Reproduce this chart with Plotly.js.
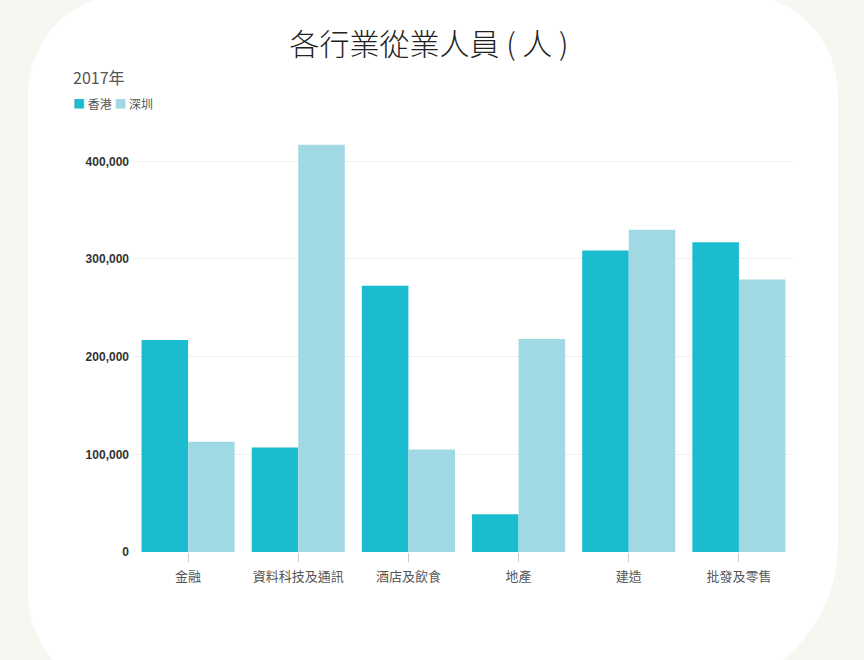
<!DOCTYPE html>
<html>
<head>
<meta charset="utf-8">
<script src="https://cdn.plot.ly/plotly-3.0.1.min.js"></script>
<style>
  html, body { margin: 0; padding: 0; background: #f8f6f1; width: 864px; height: 660px; overflow: hidden; }
  #card { position: absolute; left: 28px; top: -6px; width: 810px; height: 700px; background: #ffffff;
          border-radius: 100px 100px 150px 100px; }
  #chart { position: absolute; left: 0; top: 0; width: 864px; height: 660px; }
</style>
</head>
<body>
<div id="card"></div>
<div id="chart"></div>
<script>
const categories = ["金融", "資料科技及通訊", "酒店及飲食", "地產", "建造", "批發及零售"];
const hongKong = [217000, 107000, 272500, 38600, 308700, 317000];
const shenzhen = [113000, 417000, 105000, 218000, 330000, 279000];
const seriesNames = ["香港", "深圳"];
const yTicks = [0, 100000, 200000, 300000, 400000];

const cHK = "#1bbccf";
const cSZ = "#a0d9e4";
const cjk = "'Noto Sans CJK TC', 'Noto Sans CJK SC', 'Liberation Sans', sans-serif";

const data = [
  { type: "bar", name: seriesNames[0], x: categories, y: hongKong, marker: { color: cHK }, showlegend: false },
  { type: "bar", name: seriesNames[1], x: categories, y: shenzhen, marker: { color: cSZ }, showlegend: false }
];

const layout = {
  width: 864, height: 660,
  paper_bgcolor: "rgba(0,0,0,0)",
  plot_bgcolor: "rgba(0,0,0,0)",
  margin: { l: 133, r: 70, t: 132, b: 108 },
  barmode: "group",
  bargap: 0.155,
  bargroupgap: 0,
  title: {
    text: "各行業從業人員 ( 人 )",
    font: { family: cjk, size: 30, color: "#222222", weight: 300 },
    x: 429 / 864, xanchor: "center", xref: "container",
    y: 1 - 44 / 660, yanchor: "middle", yref: "container"
  },
  xaxis: {
    type: "category",
    ticks: "outside", ticklen: 9, tickcolor: "#cccccc", tickwidth: 1,
    tickfont: { family: cjk, size: 13, color: "#555555" },
    ticklabelstandoff: 3,
    showgrid: false, zeroline: false, showline: false
  },
  yaxis: {
    range: [0, 430000],
    tickvals: yTicks,
    tickformat: ",d",
    tickfont: { family: "'Liberation Sans', Arial, sans-serif", size: 12, color: "#333333", weight: "bold" },
    showgrid: true, gridcolor: "#f0f0f0", gridwidth: 1,
    zeroline: false, showline: false, ticks: "",
    ticklabelstandoff: 3
  },
  annotations: [
    {
      xref: "paper", yref: "paper", x: (71 - 133) / 661, y: (552 - 77) / 420,
      xanchor: "left", yanchor: "middle", showarrow: false,
      text: "2017年",
      font: { family: cjk, size: 16, color: "#555555" }
    },
    {
      xref: "paper", yref: "paper", x: (71 - 133) / 661, y: (552 - 103) / 420,
      xanchor: "left", yanchor: "middle", showarrow: false,
      text: "<span style='color:" + cHK + "'>■</span> " + seriesNames[0] +
            " <span style='color:" + cSZ + "'>■</span> " + seriesNames[1],
      font: { family: cjk, size: 12, color: "#555555" }
    }
  ]
};

Plotly.newPlot("chart", data, layout, { displayModeBar: false, staticPlot: true });
</script>
</body>
</html>
